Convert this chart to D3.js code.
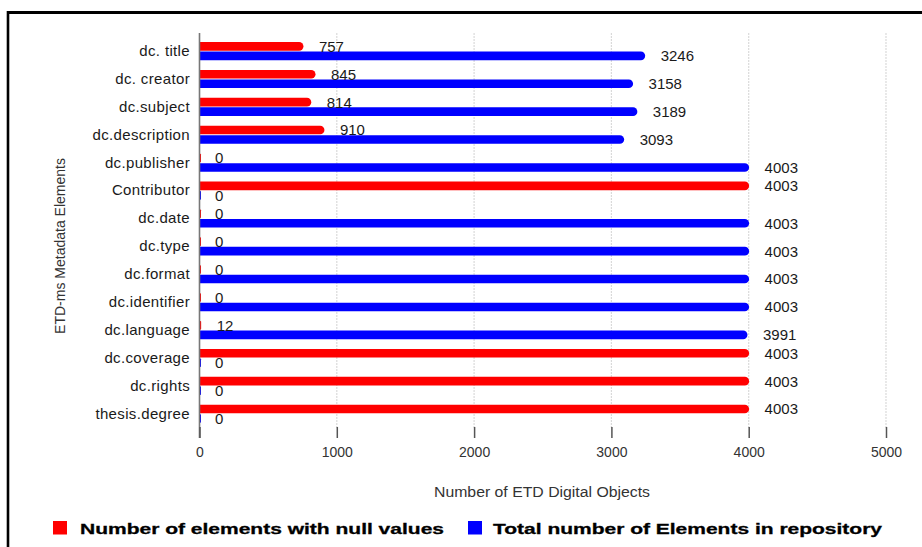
<!DOCTYPE html>
<html>
<head>
<meta charset="utf-8">
<script src="https://cdn.jsdelivr.net/npm/d3@7"></script>
<style>
  html, body { margin: 0; padding: 0; background: #fff; }
  svg { display: block; font-family: "Liberation Sans", Arial, sans-serif; }
</style>
</head>
<body>
<svg id="chart" width="922" height="547"></svg>
<script>
// Dublin Core / ETD-ms elements and their counts
const categories = [
  "dc. title", "dc. creator", "dc.subject", "dc.description", "dc.publisher",
  "Contributor", "dc.date", "dc.type", "dc.format", "dc.identifier",
  "dc.language", "dc.coverage", "dc.rights", "thesis.degree"
];
const nullValues  = [757, 845, 814, 910, 0, 4003, 0, 0, 0, 0, 12, 4003, 4003, 4003];
const totalValues = [3246, 3158, 3189, 3093, 4003, 0, 4003, 4003, 4003, 4003, 3991, 0, 0, 0];
const xTicks = [0, 1000, 2000, 3000, 4000, 5000];
const seriesNames = ["Number of elements with null values", "Total number of Elements in repository"];
const seriesColors = ["#ff0000", "#0000ff"];

const svg = d3.select("#chart");

const x = d3.scaleLinear().domain([0, 5000]).range([199.5, 886]);
const y = d3.scaleBand().domain(categories).range([37, 427.6]).padding(0);

const plotTop = 33, plotBottom = 428;

// frame lines
svg.append("line").attr("x1", 7).attr("x2", 922).attr("y1", 12.5).attr("y2", 12.5)
  .attr("stroke", "#000").attr("stroke-width", 3);
svg.append("line").attr("x1", 8).attr("x2", 8).attr("y1", 11).attr("y2", 547)
  .attr("stroke", "#000").attr("stroke-width", 2.6);

// dotted vertical gridlines
svg.append("g").selectAll("line").data(xTicks.filter(d => d > 0)).join("line")
  .attr("x1", d => x(d)).attr("x2", d => x(d))
  .attr("y1", plotTop).attr("y2", plotBottom)
  .attr("stroke", "#dadada").attr("stroke-width", 1.2)
  .attr("stroke-dasharray", "2,1");

// bars
const clip = svg.append("defs").append("clipPath").attr("id", "plotclip");
clip.append("rect").attr("x", x(0)).attr("y", 0).attr("width", 922).attr("height", 547);

const barH = 8.6;
const rows = categories.map((c, i) => ({ c, vals: [nullValues[i], totalValues[i]] }));
const barG = svg.append("g").attr("clip-path", "url(#plotclip)");
rows.forEach(r => {
  const b = y(r.c) + y.bandwidth() / 2;
  r.vals.forEach((v, s) => {
    const top = s === 0 ? b - barH - 0.3 : b + 0.6;
    const w = Math.max(x(v) - x(0), 1.5);
    const rad = Math.min(barH / 2, w / 2);
    barG.append("rect")
      .attr("x", x(0) - rad).attr("y", top)
      .attr("width", w + rad).attr("height", barH)
      .attr("rx", rad).attr("ry", rad)
      .attr("fill", seriesColors[s]);
  });
});

// value labels
const labelG = svg.append("g").attr("font-size", 15).attr("fill", "#1a1a1a");
rows.forEach(r => {
  const b = y(r.c) + y.bandwidth() / 2;
  r.vals.forEach((v, s) => {
    const cy = s === 0 ? b - barH / 2 - 0.3 : b + barH / 2 + 0.6;
    labelG.append("text")
      .attr("x", x(v) + 15.5).attr("y", cy)
      .attr("dy", "0.36em")
      .text(v);
  });
});

// y axis line and category labels
svg.append("line").attr("x1", x(0)).attr("x2", x(0)).attr("y1", plotTop).attr("y2", 438)
  .attr("stroke", "#777").attr("stroke-width", 1.6);
svg.append("g").selectAll("text").data(categories).join("text")
  .attr("x", 190).attr("y", d => y(d) + y.bandwidth() / 2)
  .attr("dy", "0.33em")
  .attr("text-anchor", "end")
  .attr("font-size", 15).attr("letter-spacing", 0.35).attr("fill", "#1a1a1a")
  .text(d => d);

// x axis ticks and labels
const xAxis = d3.axisBottom(x).tickValues(xTicks).tickSize(11).tickPadding(9).tickFormat(d3.format("d"));
const ax = svg.append("g").attr("transform", `translate(0,${427})`).call(xAxis);
ax.select(".domain").remove();
ax.selectAll(".tick line").attr("stroke", "#555").attr("stroke-width", 1.5);
ax.selectAll(".tick text").attr("font-size", 14).attr("fill", "#333")
  .attr("font-family", "\"Liberation Sans\", Arial, sans-serif");

// axis titles
svg.append("text").attr("x", 542).attr("y", 497)
  .attr("text-anchor", "middle").attr("font-size", 14).attr("fill", "#333")
  .attr("textLength", 216).attr("lengthAdjust", "spacingAndGlyphs")
  .text("Number of ETD Digital Objects");
svg.append("text")
  .attr("transform", "translate(65,246) rotate(-90)")
  .attr("text-anchor", "middle").attr("font-size", 14).attr("fill", "#333")
  .text("ETD-ms Metadata Elements");

// legend
const legend = [
  { name: seriesNames[0], color: seriesColors[0], sx: 53, tx: 80, tw: 364 },
  { name: seriesNames[1], color: seriesColors[1], sx: 468, tx: 493, tw: 389 }
];
const lg = svg.append("g");
legend.forEach(l => {
  lg.append("rect").attr("x", l.sx).attr("y", 521).attr("width", 14).attr("height", 13.5).attr("fill", l.color);
  lg.append("text").attr("x", l.tx).attr("y", 533.5)
    .attr("font-size", 15).attr("font-weight", "bold").attr("fill", "#000")
    .attr("stroke", "#000").attr("stroke-width", 0.3)
    .attr("textLength", l.tw).attr("lengthAdjust", "spacingAndGlyphs")
    .text(l.name);
});
</script>
</body>
</html>
